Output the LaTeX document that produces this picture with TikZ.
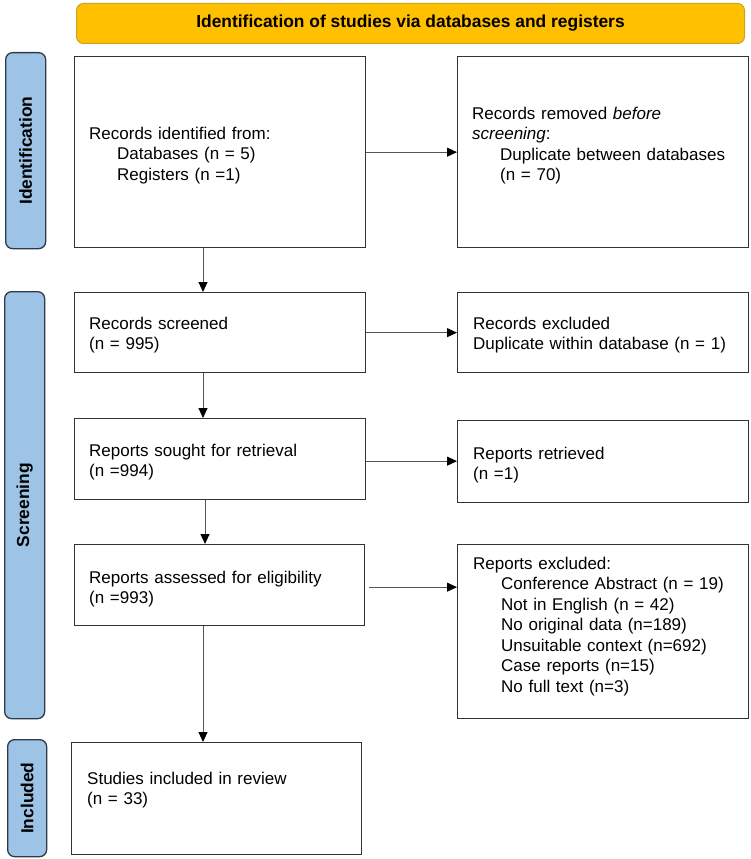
\documentclass[tikz,border=0pt]{standalone}
\usepackage{fontspec}
\setmainfont{Liberation Sans}
\usetikzlibrary{arrows.meta,calc}
\definecolor{bannerfill}{HTML}{FFC000}
\definecolor{bannerdraw}{HTML}{C9A227}
\definecolor{sidefill}{HTML}{9DC3E6}
\definecolor{sidedraw}{HTML}{2E3A48}
\definecolor{boxdraw}{HTML}{333333}
\definecolor{linegray}{HTML}{555555}
\tikzset{
  box/.style={draw=boxdraw, line width=1.3pt, fill=white, minimum width=291pt, inner sep=0pt, anchor=north west},
  txt/.style={anchor=base west, inner sep=0pt, text width=280pt, align=left, font=\fontsize{17}{20.5}\selectfont},
  sidebar/.style={draw=sidedraw, line width=1.3pt, fill=sidefill, rounded corners=7pt, minimum width=40pt, inner sep=0pt, anchor=north west},
  sidelabel/.style={rotate=90, font=\fontsize{17.4}{20}\selectfont\bfseries, inner sep=0pt},
  banner/.style={draw=bannerdraw, line width=1pt, fill=bannerfill, rounded corners=7pt, minimum width=668pt, minimum height=40pt, inner sep=0pt, anchor=north west, font=\fontsize{17.4}{20}\selectfont\bfseries},
  arr/.style={draw=linegray, line width=0.9pt, -{Triangle[length=10pt,width=9pt,fill=black,color=black]}}
}
\begin{document}
\begin{tikzpicture}[x=1pt,y=-1pt]
\useasboundingbox (0,0) rectangle (751,859);
% banner
\node[banner] (ban) at (76,3) {Identification of studies via databases and registers};
% side bars
\node[sidebar, minimum height=196pt] (sid1) at (5,52) {};
\node[sidelabel] (lab1) at (sid1.center) {Identification};
\node[sidebar, minimum height=427pt] (sid2) at (4,291) {};
\node[sidelabel] (lab2) at (sid2.center) {Screening};
\node[sidebar, minimum height=117pt, minimum width=39pt] (sid3) at (7,739) {};
\node[sidelabel] (lab3) at (sid3.center) {Included};
% boxes
\node[box, minimum height=191pt] (b1) at (74,56) {};
\node[box, minimum height=191pt] (b2) at (457,56) {};
\node[box, minimum height=80pt] (b3) at (74,292) {};
\node[box, minimum height=80pt] (b4) at (457,292) {};
\node[box, minimum height=81pt] (b5) at (74,418) {};
\node[box, minimum height=82pt] (b6) at (457,420) {};
\node[box, minimum height=81pt, minimum width=290pt] (b7) at (74,544) {};
\node[box, minimum height=174pt] (b8) at (457,544) {};
\node[box, minimum height=112pt, minimum width=290pt] (b9) at (71,742) {};
% texts
\node[txt] (t1) at (89,139) {Records identified from:\\\hspace*{28pt}Databases (n = 5)\\\hspace*{28pt}Registers (n =1)};
\node[txt] (t2) at (472,119) {Records removed \textit{before}\\\textit{screening}:\\\hspace*{28pt}Duplicate between databases\\\hspace*{28pt}(n = 70)};
\node[txt] (t3) at (89,329) {Records screened\\(n = 995)};
\node[txt] (t4) at (473,329) {Records excluded\\Duplicate within database (n = 1)};
\node[txt] (t5) at (89,456) {Reports sought for retrieval\\(n =994)};
\node[txt] (t6) at (473,459) {Reports retrieved\\(n =1)};
\node[txt] (t7) at (89,583) {Reports assessed for eligibility\\(n =993)};
\node[txt] (t8) at (473,569) {Reports excluded:\\\hspace*{28pt}Conference Abstract (n = 19)\\\hspace*{28pt}Not in English (n = 42)\\\hspace*{28pt}No original data (n=189)\\\hspace*{28pt}Unsuitable context (n=692)\\\hspace*{28pt}Case reports (n=15)\\\hspace*{28pt}No full text (n=3)};
\node[txt] (t9) at (87,784) {Studies included in review\\(n = 33)};
% connectors
\draw[arr] (b1.east) -- (b2.west);
\draw[arr] ([xshift=129pt]b1.south west) -- ([xshift=129pt]b1.south west |- b3.north);
\draw[arr] (b3.east) -- (b4.west);
\draw[arr] ([xshift=129pt]b3.south west) -- ([xshift=129pt]b3.south west |- b5.north);
\draw[arr] ([yshift=-2pt]b5.east) -- ([yshift=-2pt]b5.east -| b6.west);
\draw[arr] ([xshift=131pt]b5.south west) -- ([xshift=131pt]b5.south west |- b7.north);
\draw[arr] ([xshift=4pt,yshift=-2pt]b7.east) -- ([yshift=-2pt]b7.east -| b8.west);
\draw[arr] ([xshift=129pt]b7.south west) -- ([xshift=129pt]b7.south west |- b9.north);
\end{tikzpicture}
\end{document}
